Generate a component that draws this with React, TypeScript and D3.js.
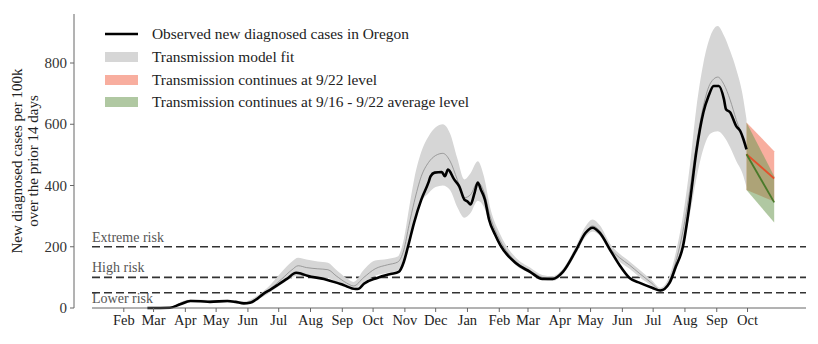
import React from "react";
import * as d3 from "d3";

const W = 818;
const H = 344;

const obsDates = [
  "2020-02-24","2020-03-17","2020-03-27","2020-04-06","2020-04-16","2020-04-25","2020-05-12","2020-05-20",
  "2020-05-28","2020-06-03","2020-06-10","2020-06-16","2020-06-23","2020-06-30","2020-07-09","2020-07-18",
  "2020-07-23","2020-07-29","2020-08-14","2020-08-27","2020-09-02","2020-09-14","2020-09-17","2020-09-22",
  "2020-10-05","2020-10-18","2020-10-26","2020-10-31","2020-11-04","2020-11-10","2020-11-17","2020-11-24",
  "2020-11-26","2020-11-30","2020-12-07","2020-12-10","2020-12-13","2020-12-19","2020-12-24","2020-12-29",
  "2021-01-01","2021-01-04","2021-01-08","2021-01-11","2021-01-14","2021-01-18","2021-01-22","2021-01-28",
  "2021-02-02","2021-02-17","2021-03-03","2021-03-15","2021-03-25","2021-04-04","2021-04-17","2021-04-26",
  "2021-05-03","2021-05-10","2021-05-20","2021-05-29","2021-06-08","2021-06-18","2021-06-30","2021-07-08",
  "2021-07-17","2021-07-23","2021-07-30","2021-08-06","2021-08-12","2021-08-19","2021-08-24","2021-08-29",
  "2021-09-03","2021-09-08","2021-09-10","2021-09-14","2021-09-20","2021-09-24","2021-09-27","2021-09-30"
];
const obsValues = [
  0, 1, 12, 23, 22, 20, 23, 20,
  15, 17, 30, 46, 60, 75, 95, 115,
  112, 105, 95, 82, 75, 62, 63, 79,
  98, 111, 118, 151, 200, 279, 354, 410,
  430, 442, 444, 430, 452, 420, 397, 354,
  348, 338, 377, 410, 387, 354, 289, 239,
  205, 147, 118, 95, 95, 118, 190, 245,
  262, 245, 190, 141, 98, 82, 66, 57,
  82, 134, 200, 350, 508, 639, 692, 725,
  725, 682, 649, 639, 594, 577, 551, 518
];

const fitDates = [
  "2020-03-20","2020-04-06","2020-04-25","2020-05-12","2020-05-28","2020-06-10","2020-06-23","2020-07-04",
  "2020-07-14","2020-07-20","2020-07-28","2020-08-08","2020-08-18","2020-08-26","2020-09-05","2020-09-12",
  "2020-09-22","2020-10-03","2020-10-15","2020-10-25","2020-10-31","2020-11-05","2020-11-10","2020-11-17",
  "2020-11-24","2020-12-01","2020-12-08","2020-12-15","2020-12-22","2020-12-29","2021-01-04","2021-01-11",
  "2021-01-17","2021-01-23","2021-02-02","2021-02-17","2021-03-03","2021-03-15","2021-03-25","2021-04-04",
  "2021-04-17","2021-04-26","2021-05-03","2021-05-10","2021-05-20","2021-05-29","2021-06-08","2021-06-18",
  "2021-06-30","2021-07-08","2021-07-17","2021-07-23","2021-07-30","2021-08-06","2021-08-12","2021-08-19",
  "2021-08-26","2021-09-02","2021-09-08","2021-09-14","2021-09-20","2021-09-26","2021-09-30"
];
const fitValues = [
  3, 24, 21, 22, 17, 32, 63, 95,
  125, 138, 132, 128, 125, 105, 82, 72,
  100, 128, 141, 150, 190, 270, 345, 430,
  475, 498, 505, 480, 420, 360, 370, 410,
  380, 300, 220, 152, 122, 100, 96, 118,
  190, 248, 268, 252, 195, 165, 140, 112,
  80, 58, 90, 150, 250, 390, 530, 660,
  735, 754, 730, 680, 615, 560, 520
];
const fitLow = [
  1, 20, 17, 18, 14, 26, 52, 78,
  100, 105, 103, 100, 98, 85, 68, 62,
  85, 105, 115, 122, 150, 215, 270, 345,
  375, 395, 400, 385, 330, 295, 310, 350,
  330, 270, 200, 140, 113, 92, 88, 110,
  178, 232, 250, 236, 182, 152, 128, 100,
  72, 52, 78, 125, 200, 310, 420, 520,
  570, 577, 560, 525, 480, 440, 395
];
const fitHigh = [
  6, 28, 26, 27, 21, 40, 76, 118,
  152, 164, 158, 152, 148, 125, 98, 85,
  125, 155, 160, 168, 225, 325, 420, 510,
  560, 590, 600, 570, 490, 420, 440, 479,
  430, 330, 240, 165, 132, 108, 104, 128,
  204, 266, 289, 270, 210, 178, 152, 124,
  90, 66, 105, 180, 300, 470, 650, 800,
  890, 921, 890, 840, 780, 700, 616
];

const projDates = ["2021-09-30", "2021-10-27"];
const redLine = [502, 423];
const redLow = [385, 348];
const redHigh = [606, 512];
const greenLine = [502, 345];
const greenLow = [385, 279];
const greenHigh = [606, 430];

const riskLevels = [200, 100, 50];
const riskLabelValues = [200, 100, 0];
const riskLabels = ["Extreme risk", "High risk", "Lower risk"];

const yTicks = [0, 200, 400, 600, 800];
const monthTickDates = [
  "2020-02-01","2020-03-01","2020-04-01","2020-05-01","2020-06-01","2020-07-01","2020-08-01",
  "2020-09-01","2020-10-01","2020-11-01","2020-12-01","2021-01-01","2021-02-01","2021-03-01",
  "2021-04-01","2021-05-01","2021-06-01","2021-07-01","2021-08-01","2021-09-01","2021-10-01"
];
const monthTickLabels = [
  "Feb","Mar","Apr","May","Jun","Jul","Aug","Sep","Oct","Nov","Dec","Jan","Feb","Mar",
  "Apr","May","Jun","Jul","Aug","Sep","Oct"
];

const legendLabels = [
  "Observed new diagnosed cases in Oregon",
  "Transmission model fit",
  "Transmission continues at 9/22 level",
  "Transmission continues at 9/16 - 9/22 average level"
];

const FONT = "'Liberation Serif', 'DejaVu Serif', serif";
const RED_FILL = "#f26b50";
const GREEN_FILL = "#6f9a55";
const FILL_OPACITY = 0.55;

const parse = d3.timeParse("%Y-%m-%d");

export default function App() {
  const x = d3
    .scaleTime()
    .domain([parse("2020-01-01")!, parse("2021-11-27")!])
    .range([92, 806]);
  const y = d3.scaleLinear().domain([0, 960]).range([308, 14]);

  const obs = obsDates.map((d, i) => ({ d: parse(d)!, v: obsValues[i] }));
  const fit = fitDates.map((d, i) => ({ d: parse(d)!, v: fitValues[i], lo: fitLow[i], hi: fitHigh[i] }));
  const red = projDates.map((d, i) => ({ d: parse(d)!, v: redLine[i], lo: redLow[i], hi: redHigh[i] }));
  const green = projDates.map((d, i) => ({ d: parse(d)!, v: greenLine[i], lo: greenLow[i], hi: greenHigh[i] }));

  const line = d3
    .line<{ d: Date; v: number }>()
    .x((p) => x(p.d))
    .y((p) => y(p.v))
    .curve(d3.curveMonotoneX);
  const area = d3
    .area<{ d: Date; lo: number; hi: number }>()
    .x((p) => x(p.d))
    .y0((p) => y(p.lo))
    .y1((p) => y(p.hi))
    .curve(d3.curveMonotoneX);
  const lineL = d3
    .line<{ d: Date; v: number }>()
    .x((p) => x(p.d))
    .y((p) => y(p.v));
  const areaL = d3
    .area<{ d: Date; lo: number; hi: number }>()
    .x((p) => x(p.d))
    .y0((p) => y(p.lo))
    .y1((p) => y(p.hi));

  const legendY = [34, 57, 80, 102];

  return (
    <svg
      width={W}
      height={H}
      style={{ position: "absolute", left: 0, top: 0, background: "#fff" }}
      fontFamily={FONT}
    >
      {/* risk lines */}
      {riskLevels.map((lv, i) => (
        <g key={"r" + i}>
          <line
            x1={92}
            x2={806}
            y1={y(lv)}
            y2={y(lv)}
            stroke="#333"
            strokeWidth={1.6}
            strokeDasharray="8,4"
          />
          <text x={92} y={y(riskLabelValues[i]) - 5} fontSize={14} fill="#555">
            {riskLabels[i]}
          </text>
        </g>
      ))}

      {/* model fit band */}
      <path d={area(fit) || ""} fill="#d6d6d6" />
      <path d={line(fit) || ""} fill="none" stroke="#8a8a8a" strokeWidth={0.8} />

      {/* projections */}
      <path d={areaL(red) || ""} fill={RED_FILL} fillOpacity={FILL_OPACITY} />
      <path d={areaL(green) || ""} fill={GREEN_FILL} fillOpacity={FILL_OPACITY} />
      <path d={lineL(red) || ""} fill="none" stroke="#e4502c" strokeWidth={1.8} />
      <path d={lineL(green) || ""} fill="none" stroke="#4a7a2a" strokeWidth={1.8} />

      {/* observed */}
      <path d={line(obs) || ""} fill="none" stroke="#000" strokeWidth={2.6} strokeLinejoin="round" />

      {/* y axis */}
      <line x1={74} x2={74} y1={14} y2={308} stroke="#666" strokeWidth={1} />
      {yTicks.map((t) => (
        <g key={"y" + t}>
          <line x1={70} x2={74} y1={y(t)} y2={y(t)} stroke="#666" />
          <text x={67} y={y(t) + 5} textAnchor="end" fontSize={15} fill="#333">
            {t}
          </text>
        </g>
      ))}
      <text
        transform={`translate(22,${161}) rotate(-90)`}
        textAnchor="middle"
        fontSize={15}
        fill="#222"
      >
        <tspan x={0} dy={0}>New diagnosed cases per 100k</tspan>
        <tspan x={0} dy={16}>over the prior 14 days</tspan>
      </text>

      {/* x axis */}
      <line x1={92} x2={806} y1={308} y2={308} stroke="#666" strokeWidth={1} />
      {monthTickDates.map((m, i) => {
        const xx = x(parse(m)!);
        return (
          <g key={"m" + i}>
            <line x1={xx} x2={xx} y1={308} y2={312} stroke="#666" />
            <text x={xx} y={325} textAnchor="middle" fontSize={14.5} fill="#222">
              {monthTickLabels[i]}
            </text>
          </g>
        );
      })}

      {/* legend */}
      <line x1={105} x2={138} y1={legendY[0]} y2={legendY[0]} stroke="#000" strokeWidth={2.6} />
      <rect x={105} y={legendY[1] - 5} width={33} height={10} fill="#d6d6d6" />
      <rect x={105} y={legendY[2] - 5} width={33} height={10} fill={RED_FILL} fillOpacity={FILL_OPACITY} />
      <rect x={105} y={legendY[3] - 5} width={33} height={10} fill={GREEN_FILL} fillOpacity={FILL_OPACITY} />
      {legendLabels.map((l, i) => (
        <text key={"l" + i} x={152} y={legendY[i] + 5} fontSize={15.4} fill="#222">
          {l}
        </text>
      ))}
    </svg>
  );
}
